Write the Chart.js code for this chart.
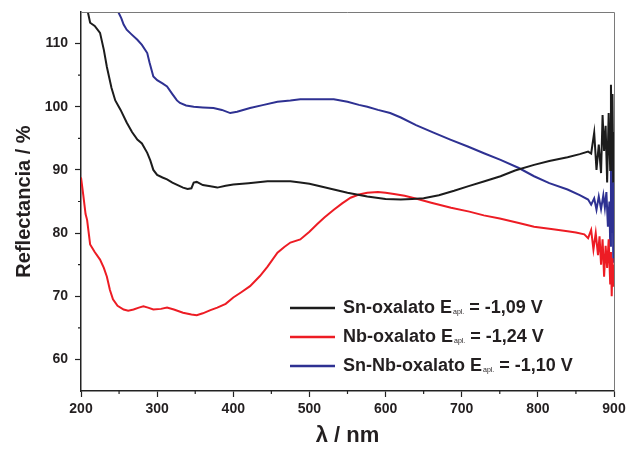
<!DOCTYPE html>
<html>
<head>
<meta charset="utf-8">
<script src="https://cdn.jsdelivr.net/npm/chart.js@4.4.1/dist/chart.umd.min.js"></script>
<style>
    html, body { margin: 0; padding: 0; background: #fff; }
    #wrap { width: 633px; height: 449px; }
</style>
</head>
<body>
<div id="wrap"><canvas id="reflChart"></canvas></div>
<script>
// Values (wavelength in nm, reflectance in %)
const snWave = [203, 206, 209, 212, 218, 225, 230, 234, 240, 245, 252, 260, 267, 274, 280, 287, 291, 295, 300, 307,
    313, 320, 327, 334, 340, 345, 348, 352, 360, 370, 379, 390, 400, 420, 445, 460, 475, 488, 500, 514,
    532, 550, 576, 600, 620, 635, 650, 670, 690, 708, 730, 751, 770, 795, 815, 839, 855, 866, 870, 874,
    877, 880, 883, 885, 887, 889, 891, 893, 895, 896, 897, 898, 899, 900];
const snRefl = [118, 116, 115, 113.3, 112.8, 111.7, 109, 106.3, 103, 101, 99.5, 97.5, 96, 94.8, 94.2, 92.7, 91.5, 90, 89.2, 88.8,
    88.5, 88, 87.6, 87.2, 87, 87.1, 88, 88.1, 87.6, 87.4, 87.2, 87.5, 87.7, 87.9, 88.2, 88.2, 88.2, 88, 87.8, 87.4,
    86.9, 86.4, 85.8, 85.4, 85.3, 85.4, 85.5, 86, 86.7, 87.4, 88.2, 89, 89.9, 90.8, 91.4, 92, 92.5, 92.9, 92.6, 95.9,
    90, 94, 89.5, 98.7, 93, 97, 88, 99, 90, 103.5, 94, 102, 88, 96];

const nbWave = [200, 203, 206, 208, 212, 218, 225, 230, 234, 238, 242, 248, 256, 262, 269, 276, 282, 288, 295, 305,
    313, 322, 334, 345, 352, 360, 370, 379, 390, 400, 410, 422, 435, 445, 458, 467, 475, 488, 500, 510,
    520, 532, 543, 554, 565, 576, 590, 600, 611, 625, 642, 660, 686, 710, 729, 750, 775, 795, 820, 839,
    850, 861, 866, 870, 873, 876, 879, 881, 883, 885, 887, 889, 891, 893, 895, 896, 897, 898, 899, 900];
const nbRefl = [88.8, 86, 83, 82.1, 78.2, 77, 75.8, 74.5, 73.1, 71, 69.5, 68.5, 67.9, 67.7, 67.9, 68.2, 68.4, 68.2, 67.9, 68,
    68.2, 67.9, 67.4, 67.1, 67, 67.3, 67.8, 68.2, 68.8, 69.8, 70.6, 71.6, 73.2, 74.7, 76.9, 77.8, 78.5, 79, 80.2, 81.4,
    82.5, 83.7, 84.7, 85.6, 86.1, 86.4, 86.5, 86.4, 86.2, 85.9, 85.4, 84.8, 84, 83.4, 82.8, 82.3, 81.6, 81, 80.6, 80.3,
    80.1, 79.8, 79.2, 80.5, 77.4, 80, 76.5, 79.5, 75, 79, 73.1, 78, 74.5, 79, 72, 77, 70, 76, 71.5, 75];

const snNbWave = [249, 253, 256, 260, 266, 274, 280, 287, 290, 295, 300, 307, 313, 320, 326, 330, 338, 348, 360, 374,
    385, 396, 405, 422, 440, 458, 475, 488, 510, 532, 550, 565, 576, 590, 606, 620, 640, 663, 685, 708,
    730, 751, 775, 795, 815, 839, 855, 866, 870, 874, 877, 880, 883, 886, 888, 890, 892, 894, 895, 896,
    897, 898, 899, 900];
const snNbRefl = [115, 114, 113, 112.2, 111.5, 110.6, 109.8, 108.5, 107, 104.8, 104.2, 103.7, 103.2, 102, 101, 100.6, 100.2, 100, 99.9, 99.8,
    99.5, 99, 99.2, 99.8, 100.3, 100.8, 101, 101.2, 101.2, 101.2, 100.8, 100.3, 100, 99.5, 99, 98.3, 97.1, 95.9, 94.8, 93.7,
    92.6, 91.6, 90.3, 89, 87.9, 86.9, 86, 85.3, 84.5, 85.5, 83.7, 85.8, 83.8, 86, 84, 86.5, 81, 85, 78, 97,
    80, 95, 75.3, 88];

const seriesNames = ['Sn-oxalato', 'Nb-oxalato', 'Sn-Nb-oxalato'];
const seriesPotentials = ['-1,09 V', '-1,24 V', '-1,10 V'];
const seriesColors = ['#1c1c1c', '#ed1c24', '#2e3192'];

const xTicksMajor = [200, 300, 400, 500, 600, 700, 800, 900];
const yTicksMajor = [60, 70, 80, 90, 100, 110];

function toPoints(xs, ys) {
    return xs.map((x, i) => ({ x: x, y: ys[i] }));
}

const baseFont = 'Liberation Sans, Arial, Helvetica, sans-serif';

// frame (top/right), minor ticks and the legend with the "apl." subscript
const extrasPlugin = {
    id: 'extras',
    afterDraw(chart) {
        const ctx = chart.ctx;
        const area = chart.chartArea;
        const xs = chart.scales.x;
        const ys = chart.scales.y;
        ctx.save();

        ctx.strokeStyle = '#7a7a7a';
        ctx.lineWidth = 1;
        ctx.beginPath();
        ctx.moveTo(area.left, area.top + 0.5);
        ctx.lineTo(area.right + 0.5, area.top + 0.5);
        ctx.lineTo(area.right + 0.5, area.bottom);
        ctx.stroke();

        // minor ticks
        ctx.strokeStyle = '#222';
        ctx.lineWidth = 1.2;
        ctx.beginPath();
        for (let v = 250; v < 900; v += 100) {
            const px = xs.getPixelForValue(v);
            ctx.moveTo(px, area.bottom);
            ctx.lineTo(px, area.bottom + 3);
        }
        for (let v = 65; v < 115; v += 10) {
            const py = ys.getPixelForValue(v);
            ctx.moveTo(area.left, py);
            ctx.lineTo(area.left - 3, py);
        }
        ctx.stroke();

        // legend
        const lineX0 = 290, lineX1 = 335, textX = 343;
        const rowY = [308, 337, 366];
        ctx.textBaseline = 'middle';
        seriesNames.forEach((name, i) => {
            const y = rowY[i];
            ctx.strokeStyle = seriesColors[i];
            ctx.lineWidth = 2.5;
            ctx.beginPath();
            ctx.moveTo(lineX0, y);
            ctx.lineTo(lineX1, y);
            ctx.stroke();

            ctx.fillStyle = '#231f20';
            ctx.font = 'bold 18px ' + baseFont;
            const first = name + ' E';
            ctx.fillText(first, textX, y);
            let x = textX + ctx.measureText(first).width + 1;
            ctx.font = '7px ' + baseFont;
            ctx.fillText('apl.', x, y + 4);
            x += ctx.measureText('apl.').width;
            ctx.font = 'bold 18px ' + baseFont;
            ctx.fillText(' = ' + seriesPotentials[i], x, y);
        });
        ctx.restore();
    }
};

const ctx = document.getElementById('reflChart').getContext('2d');
const reflChart = new Chart(ctx, {
    type: 'line',
    data: {
        datasets: [
            { label: seriesNames[0], data: toPoints(snWave, snRefl), borderColor: seriesColors[0] },
            { label: seriesNames[1], data: toPoints(nbWave, nbRefl), borderColor: seriesColors[1] },
            { label: seriesNames[2], data: toPoints(snNbWave, snNbRefl), borderColor: seriesColors[2] }
        ]
    },
    options: {
        responsive: true,
        maintainAspectRatio: false,
        animation: false,
        datasets: {
            line: { borderWidth: 2, pointRadius: 0, tension: 0, fill: false }
        },
        layout: { padding: { top: 12, right: 19, left: 0, bottom: 0 } },
        plugins: {
            legend: { display: false },
            tooltip: { enabled: false }
        },
        scales: {
            x: {
                type: 'linear',
                min: 200,
                max: 900,
                afterFit: (scale) => {
                    scale.height = 58;
                    scale.paddingLeft = 0;
                    scale.paddingRight = 0;
                },
                border: { color: '#222', width: 1.5 },
                grid: {
                    drawOnChartArea: false,
                    tickLength: 6,
                    tickWidth: 1.2,
                    color: (c) => xTicksMajor.includes(c.tick.value) ? '#222' : 'transparent'
                },
                ticks: {
                    stepSize: 50,
                    autoSkip: false,
                    maxRotation: 0,
                    padding: 4,
                    color: '#231f20',
                    font: { family: baseFont, size: 14, weight: 'bold' },
                    callback: (v) => xTicksMajor.includes(v) ? String(v) : ''
                },
                title: {
                    display: true,
                    text: 'λ / nm',
                    color: '#231f20',
                    font: { family: baseFont, size: 22, weight: 'bold' },
                    padding: { top: 0, bottom: 0 }
                }
            },
            y: {
                min: 55,
                max: 115,
                afterFit: (scale) => {
                    scale.width = 81;
                    scale.paddingTop = 0;
                    scale.paddingBottom = 0;
                },
                border: { color: '#222', width: 1.5 },
                grid: {
                    drawOnChartArea: false,
                    tickLength: 6,
                    tickWidth: 1.2,
                    color: (c) => yTicksMajor.includes(c.tick.value) ? '#222' : 'transparent'
                },
                ticks: {
                    stepSize: 5,
                    autoSkip: false,
                    padding: 7,
                    color: '#231f20',
                    font: { family: baseFont, size: 14, weight: 'bold' },
                    callback: (v) => yTicksMajor.includes(v) ? String(v) : ''
                },
                title: {
                    display: true,
                    text: 'Reflectancia / %',
                    color: '#231f20',
                    font: { family: baseFont, size: 20, weight: 'bold' },
                    padding: { top: 12, bottom: 0 }
                }
            }
        }
    },
    plugins: [extrasPlugin]
});
</script>
</body>
</html>
